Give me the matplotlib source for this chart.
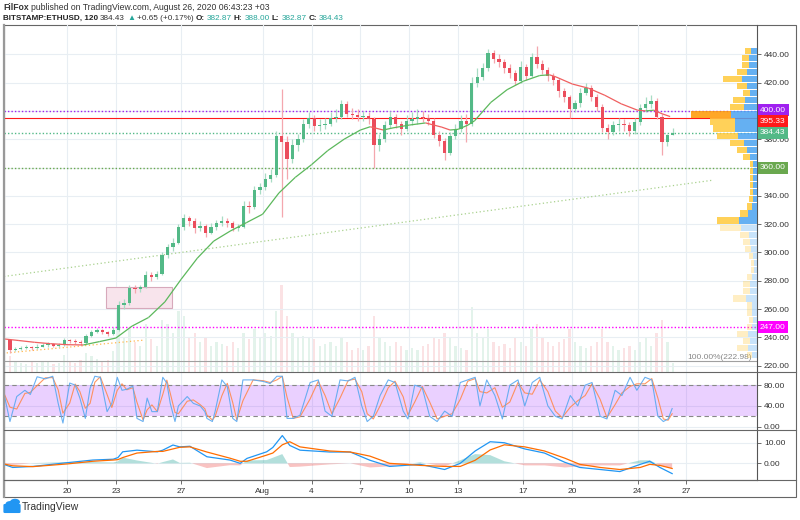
import numpy as np
import pandas as pd
import matplotlib.pyplot as plt
from matplotlib.collections import LineCollection
from matplotlib.patches import Rectangle, Circle, FancyBboxPatch
import matplotlib.transforms as mtransforms

plt.rcParams['font.family'] = ['Liberation Sans', 'DejaVu Sans']

# ETHUSD, 8-hour bars from Jul 16 08:00 (x axis = days since Jul 16 00:00)
first_open = 238.0
closes = [231, 232, 232.5, 233, 232.5, 233.5, 234.5, 235, 234, 234.5,
          238, 237.5, 237, 236, 241, 244, 245, 243.5, 242.5, 245.5,
          263, 264, 275, 274, 275.5, 284, 282.5, 285, 298, 303.5,
          307, 318, 324, 322, 317, 319, 314, 318, 320.5, 322,
          321, 317, 318, 333, 332, 344, 346, 352, 355, 382,
          378, 366, 376, 380, 391, 395, 389, 390, 391, 395,
          396, 405, 398, 397, 396, 396.5, 394, 376, 380, 390,
          396, 391, 387, 393, 394, 396, 395, 393, 383, 379,
          370, 382, 387, 393, 391, 420, 424, 430, 441, 437,
          434.6, 430, 427, 421, 431, 425, 438, 433, 429, 425,
          422, 414, 410, 401, 405.6, 413, 416, 410, 403, 388,
          385, 390, 391, 390, 386, 392, 402, 405, 407, 396,
          378, 382.87, 384.43]
highs = [239, 233.5, 234, 234.5, 234, 235, 236, 236.5, 236, 236,
         239.5, 239, 238.5, 238, 242.5, 245.5, 246.5, 246, 244.5, 247,
         266, 267, 277, 277, 277, 287, 286, 287, 300, 306,
         310, 320, 327, 326, 324, 322, 320, 321, 323, 326,
         324, 322, 320, 336, 336, 347, 349, 356, 359, 386,
         415.5, 382, 380, 384, 394, 399, 397, 394, 395, 399,
         401, 408, 407, 402, 401, 400, 399, 396, 384, 393,
         400, 398, 393, 397, 399, 401, 400, 398, 395, 386,
         381, 385, 391, 397, 398, 424, 430, 434, 444, 443,
         440, 437, 433, 429, 435, 433, 441, 446, 436, 431,
         427, 423, 416, 411, 408, 416, 420, 418, 412, 405,
         391, 393, 395, 394, 392, 395, 405, 410, 411, 409,
         398, 384, 388]
lows = [229, 230, 231, 231.5, 231, 232, 233, 233.5, 233, 233,
        234, 236, 235.5, 234.5, 235.5, 240, 243, 242.5, 241, 241.5,
        244.5, 260, 263, 271, 272, 275, 280, 281, 284, 296,
        301, 306, 316, 319, 314, 315, 311, 313, 316, 319,
        318, 315, 315, 317, 328, 331, 341, 344, 350, 353,
        325, 352, 363, 372, 378, 388, 386, 386, 387, 389,
        392, 394, 396, 394, 393, 393, 391, 360, 372, 378,
        388, 388, 383, 386, 390, 391, 392, 390, 381, 375,
        365, 369, 380, 385, 378, 389, 417, 422, 428, 434,
        431, 427, 423, 418, 420, 422, 424, 430, 426, 421,
        418, 410, 406, 395, 399, 403, 411, 407, 400, 385,
        380, 383, 386, 386, 382, 384, 390, 399, 402, 394,
        369, 375, 382.87]
volumes = [18, 12, 10, 9, 11, 10, 12, 11, 9, 10,
           20, 12, 10, 14, 22, 18, 15, 12, 14, 24,
           75, 40, 50, 35, 30, 55, 38, 30, 60, 55,
           45, 70, 65, 40, 45, 35, 40, 30, 35, 32,
           30, 35, 28, 45, 38, 50, 40, 45, 42, 70,
           100, 65, 45, 40, 42, 40, 38, 30, 32, 35,
           30, 40, 35, 25, 28, 25, 30, 65, 40, 35,
           30, 35, 30, 25, 28, 25, 30, 32, 40, 38,
           45, 40, 30, 28, 25, 75, 45, 40, 50, 35,
           30, 32, 28, 40, 35, 30, 50, 55, 40, 35,
           30, 35, 38, 50, 35, 30, 28, 30, 35, 50,
           35, 30, 25, 28, 30, 25, 35, 40, 30, 45,
           60, 35, 10]

# moving average (coloured by slope)
ma_days = [0.2, 1, 2, 3, 4, 5, 6, 7, 8, 9, 10, 11, 12, 13, 14, 15, 16, 17, 18,
           19, 20, 21, 22, 22.6, 23.4, 24, 25, 26, 27, 27.5, 28, 28.6, 29, 30,
           31, 32, 33, 33.6, 34, 35, 36, 37, 38, 39, 39.5, 40, 40.5, 41]
ma_vals = [238.8, 237.8, 236.5, 235.5, 234.8, 234.6, 237, 239.5, 248, 254,
           265, 281, 296, 308, 315, 321, 327, 342, 353, 362, 372, 380, 386.5,
           388.8, 386.5, 388, 390, 391.5, 388.5, 386.5, 387, 390, 393, 406,
           415, 421, 425, 425.5, 424, 419, 416, 411, 405, 400.5, 400, 400.5,
           398, 396]

# stochastic %K (hours since Jul 16 00:00)
stoch_hours = [3, 12, 22, 34, 42, 52, 64, 75, 83, 90, 100, 108, 115, 123, 130,
               137, 145, 155, 162, 170, 177, 184, 193, 199, 208, 214, 221, 229,
               237, 243, 248, 255, 260, 273, 282, 292, 299, 302, 310, 314, 324,
               332, 340, 346, 355, 370, 385, 395, 405, 413, 420, 429, 439, 454,
               466, 476, 486, 498, 510, 520, 530, 538, 547, 557, 569, 579, 591,
               598, 608, 619, 630, 641, 652, 663, 675, 686, 697, 704, 714, 726,
               737, 748, 760, 770, 781, 792, 804, 815, 825, 837, 848, 859, 869,
               881, 891, 903, 913, 925, 935, 947, 957, 966, 974, 981, 987]
stoch_k = [65, 10, 58, 70, 62, 96, 92, 97, 45, 7, 84, 80, 55, 16, 74,
           97, 95, 29, 45, 95, 70, 72, 78, 16, 10, 55, 29, 29,
           95, 84, 45, 10, 40, 58, 45, 40, 29, 16, 10, 29, 90,
           77, 16, 10, 90, 90, 87, 83, 97, 97, 16, 16, 22, 85,
           90, 30, 20, 90, 88, 95, 40, 10, 20, 60, 90, 85, 30,
           15, 80, 75, 20, 10, 30, 20, 85, 90, 95, 40, 90, 60,
           15, 80, 90, 40, 85, 95, 40, 20, 15, 60, 40, 80, 85,
           20, 15, 70, 60, 95, 70, 95, 90, 20, 10, 15, 35]

# MACD
macd_hours = [3, 16, 46, 96, 134, 164, 171, 178, 199, 229, 237, 252, 262, 277,
              302, 336, 351, 361, 390, 399, 413, 424, 439, 483, 513, 542, 571,
              616, 652, 675, 697, 719, 740, 770, 799, 829, 851, 881, 910, 940,
              954, 969, 987]
macd_line = [-0.5, -2, -1.5, 0.3, 1.6, 2.0, 2.8, 5.6, 6.4, 5.6, 6.4, 8.9, 8.0,
             8.3, 3.2, 1.6, 0.0, 2.4, 5.6, 7.7, 13.5, 8.7, 6.4, 5.5, 5.5, 1.5,
             -1.5, -0.5, -3.0, 0.0, 6.0, 10.5, 10.0, 7.0, 5.0, 0.5, -2.0, -3.0,
             -4.0, -0.5, 1.0, -2.0, -5.0]
macd_signal = [-0.3, -1.2, -1.6, -0.3, 1.0, 1.6, 1.8, 2.8, 5.0, 5.8, 5.8, 7.0,
               7.8, 8.0, 5.5, 2.5, 1.0, 1.0, 4.0, 5.0, 9.0, 10.5, 8.0, 6.0, 5.5,
               3.5, 0.0, -1.0, -1.5, -1.5, 1.5, 6.5, 9.0, 8.0, 6.0, 2.5, -0.5,
               -2.0, -3.0, -2.0, -0.5, -1.0, -2.5]

# visible range volume profile, 5$ rows starting at 225
profile_low = list(range(225, 445, 5))
profile_up = [5, 9, 7, 9, 5, 4, 5, 5, 11, 7, 7, 5, 3, 3, 4, 6, 7, 8, 16, 18,
              9, 5, 4, 4, 4, 4, 4, 4, 7, 10, 13, 19, 22, 22, 26, 13, 12, 7,
              10, 15, 10, 8, 8, 6]
profile_down = [5, 11, 7, 11, 5, 4, 5, 5, 13, 7, 7, 5, 3, 3, 4, 6, 7, 9, 21,
                22, 8, 5, 4, 3, 3, 3, 3, 3, 7, 10, 14, 21, 22, 25, 40, 14, 12,
                7, 10, 19, 10, 7, 7, 6]

price_ticks = list(range(220, 460, 20))
tick_days = [4, 7, 11, 16, 19, 22, 25, 28, 32, 35, 39, 42]
tick_labels = ['20', '23', '27', 'Aug', '4', '7', '10', '13', '17', '20', '24', '27']

# drawn levels: value, colour, style, where its price label sits
levels = [(400.0, '#a020f0', ':', 400.3), (395.33, '#ff1a1a', '-', 392.6),
          (384.43, '#53b987', ':', 384.6), (360.0, '#6aa84f', ':', 360.0),
          (247.0, '#ff00ff', ':', 247.0)]
trend_days = [0.135, 43.6]
trend_vals = [283, 351]
low_trend_days = [0.3, 8.7]
low_trend_vals = [229, 238]
box_days = [6.39, 10.44]
box_vals = [261, 275.8]
fib_level = 222.98

UP, DOWN = '#53b987', '#eb4d5c'
GRID = '#e8eef3'

W, H = 800, 520
fig = plt.figure(figsize=(8, 5.2), dpi=100)


def fx(px):
    return px / W


def fy(py):
    return 1 - py / H


L, R = 4, 757
ax = fig.add_axes([fx(L), fy(372), fx(R) - fx(L), fy(25) - fy(372)])
ax_st = fig.add_axes([fx(L), fy(430), fx(R) - fx(L), fy(372) - fy(430)], sharex=ax)
ax_m = fig.add_axes([fx(L), fy(480), fx(R) - fx(L), fy(430) - fy(480)], sharex=ax)

bar_days = np.array([(8 * (i + 1) + 4) / 24 for i in range(len(closes))])
opens = [first_open] + closes[:-1]

# volume underlay
vax = ax.twinx()
vax.set_zorder(0)
ax.set_zorder(1)
ax.patch.set_visible(False)
vcol = [UP if c >= o else DOWN for o, c in zip(opens, closes)]
vax.bar(bar_days, volumes, width=0.14, color=vcol, alpha=0.16, linewidth=0)
vax.set_ylim(0, 100 / 0.25)
vax.axis('off')

# candles
for d, o, h, l, c in zip(bar_days, opens, highs, lows, closes):
    col = UP if c >= o else DOWN
    wick = '#a8dcc4' if c >= o else '#f4a7ae'
    ax.vlines(d, l, h, color=wick, lw=0.9, zorder=3)
    ax.bar(d, max(abs(c - o), 0.6), bottom=min(o, c), width=0.2,
           color=col, linewidth=0, zorder=4)

# moving average coloured by direction
pts = np.column_stack([ma_days, ma_vals])
segs = np.stack([pts[:-1], pts[1:]], axis=1)
seg_col = ['#5cb85c' if b >= a else '#f06060' for a, b in zip(ma_vals[:-1], ma_vals[1:])]
ax.add_collection(LineCollection(segs, colors=seg_col, linewidths=0.9, zorder=5))

# drawings
ax.add_patch(Rectangle((box_days[0], box_vals[0]), box_days[1] - box_days[0],
                       box_vals[1] - box_vals[0], facecolor='#f8e4ec',
                       edgecolor='#d7a9bb', lw=0.8, zorder=2))
ax.plot(trend_days, trend_vals, ls=(0, (1, 2)), color='#a9d18e', lw=0.9, zorder=2)
ax.plot(low_trend_days, low_trend_vals, ls=(0, (1, 2)), color='#ffb74d', lw=0.9, zorder=2)
ax.axhline(fib_level, color='#a0a0a0', lw=0.8, zorder=2)

blend = mtransforms.blended_transform_factory(ax.transAxes, ax.transData)
for val, col, ls, lab_y in levels:
    ax.axhline(val, color=col, lw=0.8 if ls == '-' else 1.0,
               ls=ls if ls == '-' else (0, (1, 1.5)), zorder=2)
    ax.text(1 + 3 / (R - L), lab_y, f'{val:.2f}', transform=blend, fontsize=6,
            color='white', va='center', ha='left', clip_on=False, zorder=10,
            bbox=dict(boxstyle='square,pad=0.3', fc=col, ec='none'))
ax.text(0.9934, 226.0, f'100.00%({fib_level:.2f})', transform=blend, fontsize=6,
        color='#888888', ha='right', va='center')

# volume profile on the right edge
pax = fig.add_axes([fx(677), fy(372), fx(R) - fx(677), fy(25) - fy(372)], sharey=ax)
pax.patch.set_visible(False)
pax.set_zorder(2)
centres = [p + 2.5 for p in profile_low]
va_alpha = [0.85 if p >= 320 else 0.3 for p in profile_low]
for c, u, dn, a, p in zip(centres, profile_up, profile_down, va_alpha, profile_low):
    pax.barh(c, u, height=4.4, left=0, color='#4aa3f0', alpha=a, linewidth=0)
    pax.barh(c, dn, height=4.4, left=u, color='#ff9800' if p == 395 else '#ffc93c',
             alpha=a, linewidth=0)
pax.set_xlim(80, 0)
pax.axis('off')

ax.set_ylim(215.5, 460.7)
ax.set_xlim(0.135, 46.33)

# stochastic
stoch_days = np.array(stoch_hours) / 24
stoch_d = pd.Series(stoch_k).rolling(2, min_periods=1).mean()
ax_st.axhspan(20, 80, color='#9915ff', alpha=0.2, lw=0)
ax_st.axhline(80, color='#888888', ls=(0, (4, 3)), lw=0.8)
ax_st.axhline(20, color='#888888', ls=(0, (4, 3)), lw=0.8)
ax_st.plot(stoch_days, stoch_d, color='#ff8a50', lw=0.8, alpha=0.9)
ax_st.plot(stoch_days, stoch_k, color='#5aa9f0', lw=0.8, alpha=0.9)
ax_st.set_ylim(-6.3, 105.2)

# MACD
macd_days = np.array(macd_hours) / 24
hist = np.array(macd_line) - np.array(macd_signal)
ax_m.fill_between(macd_days, 0, hist, where=hist >= 0, color='#26a69a', alpha=0.35,
                  lw=0, interpolate=True)
ax_m.fill_between(macd_days, 0, hist, where=hist < 0, color='#ef5350', alpha=0.35,
                  lw=0, interpolate=True)
ax_m.plot(macd_days, macd_line, color='#2196f3', lw=0.9)
ax_m.plot(macd_days, macd_signal, color='#ff6d00', lw=0.9)
ax_m.set_ylim(-8.1, 16.2)

# axes styling (tick labels hidden where a level label covers them)
covered = {400, 360}
for a, yt in ((ax, price_ticks), (ax_st, [0, 40, 80]), (ax_m, [0, 10])):
    for s in a.spines.values():
        s.set_visible(False)
    a.spines['right'].set_visible(True)
    a.spines['right'].set_color('#555555')
    a.yaxis.tick_right()
    a.set_yticks(yt)
    a.set_yticklabels(['' if (a is ax and t in covered) else f'{t:.2f}' for t in yt])
    a.tick_params(axis='y', length=3, width=0.6, color='#555555', labelsize=6,
                  labelcolor='#333333', pad=2)
    a.set_xticks(tick_days)
    a.grid(True, color=GRID, lw=0.8)
    a.set_axisbelow(True)
    a.tick_params(axis='x', length=0, labelbottom=False)

ax_m.spines['bottom'].set_visible(True)
ax_m.spines['bottom'].set_color('#555555')
ax_m.set_xticklabels(tick_labels)
ax_m.tick_params(axis='x', length=3, width=0.6, color='#555555', labelsize=6,
                 labelcolor='#333333', labelbottom=True, pad=3)

# outer frame and pane separators
fig.add_artist(Rectangle((fx(L), fy(497)), fx(796) - fx(L), fy(25) - fy(497),
                         transform=fig.transFigure, fill=False, ec='#666666', lw=0.8))
fig.add_artist(plt.Line2D([fx(L), fx(L)], [fy(497), fy(25)], transform=fig.transFigure,
                          color='#999999', lw=1.6))
for py in (372, 430, 480):
    fig.add_artist(plt.Line2D([fx(L), fx(796)], [fy(py), fy(py)], transform=fig.transFigure,
                              color='#666666', lw=0.8))

# header, laid out piece by piece
renderer = fig.canvas.get_renderer()


def text_row(py, pieces, fs, gap=2.5):
    px = 3
    for txt, col, wt in pieces:
        t = fig.text(fx(px), fy(py), txt, fontsize=fs, color=col, weight=wt, va='center')
        px = t.get_window_extent(renderer).x1 + gap


teal = '#26a69a'
text_row(7, [('FilFox', '#333333', 'bold'),
             ('published on TradingView.com, August 26, 2020 06:43:23 +03', '#333333', 'normal')],
         6.2)
text_row(18, [('BITSTAMP:ETHUSD, 120', '#222222', 'bold'), ('384.43', '#333333', 'normal'),
              ('\u25b2', teal, 'normal'), ('+0.65 (+0.17%)', '#333333', 'normal'),
              ('O:', '#222222', 'bold'), ('382.87', teal, 'normal'),
              ('H:', '#222222', 'bold'), ('388.00', teal, 'normal'),
              ('L:', '#222222', 'bold'), ('382.87', teal, 'normal'),
              ('C:', '#222222', 'bold'), ('384.43', teal, 'normal')], 5.9, gap=2)

# TradingView logo
blue = '#2196f3'
fig.add_artist(FancyBboxPatch((fx(5), fy(512)), fx(14), 7 / H, boxstyle='round,pad=0.002',
                              transform=fig.transFigure, fc=blue, ec='none'))
fig.add_artist(Circle((fx(10), fy(504)), 4.5 / W, transform=fig.transFigure, fc=blue, ec='none'))
fig.add_artist(Circle((fx(15), fy(502)), 5 / W, transform=fig.transFigure, fc=blue, ec='none'))
fig.text(fx(22), fy(507), 'TradingView', fontsize=7.5, color='#333333', va='center')

fig.savefig('out.png', dpi=100)
